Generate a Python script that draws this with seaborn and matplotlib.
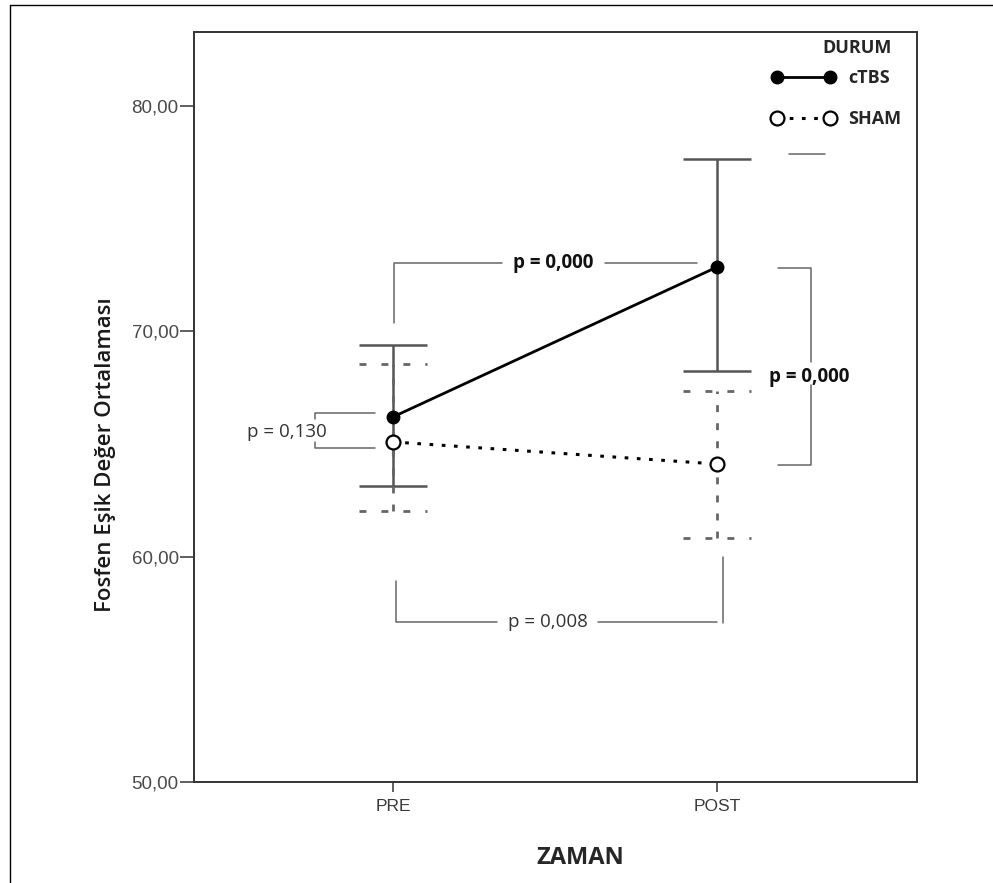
import numpy as np
import pandas as pd
import matplotlib
matplotlib.use('Agg')
import matplotlib.pyplot as plt
import seaborn as sns
from matplotlib.lines import Line2D

# Values
zaman = ['PRE', 'POST']
durum = ['cTBS', 'SHAM']
ctbs_mean = [66.20, 72.85]
ctbs_lo = [63.14, 68.24]
ctbs_hi = [69.39, 77.65]
sham_mean = [65.09, 64.11]
sham_lo = [62.03, 60.83]
sham_hi = [68.55, 67.35]
y_ticks = [50, 60, 70, 80]
p_labels = ['p = 0,130', 'p = 0,000', 'p = 0,000', 'p = 0,008']

sns.set_style('white')
plt.rcParams['font.family'] = ['Open Sans', 'DejaVu Sans']

# Long table for seaborn
df = pd.DataFrame({
    'zaman': zaman * 2,
    'durum': [durum[0]] * 2 + [durum[1]] * 2,
    'ortalama': ctbs_mean + sham_mean,
    'alt': ctbs_lo + sham_lo,
    'ust': ctbs_hi + sham_hi,
})
df['x'] = df['zaman'].map({z: i for i, z in enumerate(zaman)})

fig = plt.figure(figsize=(9.93, 8.83), dpi=100)
ax = fig.add_axes([194 / 993, 1 - 782 / 883, (917 - 194) / 993, (782 - 32) / 883])

cap = 0.106
# error bars: cTBS solid, SHAM dashed
c = df[df['durum'] == 'cTBS']
ax.vlines(c['x'], c['alt'], c['ust'], colors='#555555', lw=1.8, zorder=2)
ax.hlines(np.r_[c['alt'], c['ust']], np.r_[c['x'], c['x']] - cap, np.r_[c['x'], c['x']] + cap,
          colors='#555555', lw=1.8, zorder=2)
s = df[df['durum'] == 'SHAM']
ax.vlines(s['x'], s['alt'], s['ust'], colors='#666666', lw=2, linestyles=(0, (2.5, 4)), zorder=3)
ax.hlines(np.r_[s['alt'], s['ust']], np.r_[s['x'], s['x']] - cap, np.r_[s['x'], s['x']] + cap,
          colors='#666666', lw=2, linestyles=(0, (2.5, 5.4)), zorder=3)

# mean lines
sns.lineplot(data=c, x='x', y='ortalama', color='black', lw=2, marker='o', ms=9,
             mfc='black', mec='black', mew=1, label='cTBS', ax=ax, zorder=4)
sns.lineplot(data=s, x='x', y='ortalama', color='black', lw=2.2, linestyle=(0, (1.2, 2.8)),
             marker='o', ms=10, mfc='white', mec='black', mew=1.6, label='SHAM', ax=ax, zorder=4)

# significance brackets
bc = '#666666'
blw = 1.1
pfs = 13.5
# PRE: cTBS vs SHAM
ax.plot([-0.056, -0.241, -0.241], [66.38, 66.38, 66.10], color=bc, lw=blw)
ax.plot([-0.056, -0.241, -0.241], [64.82, 64.82, 65.10], color=bc, lw=blw)
ax.text(-0.326, 65.53, p_labels[0], ha='center', va='center', fontsize=pfs, color='#333333')
# cTBS: PRE vs POST
ax.plot([0.003, 0.003, 0.336], [70.37, 73.03, 73.03], color=bc, lw=blw)
ax.plot([0.654, 0.938], [73.03, 73.03], color=bc, lw=blw)
ax.text(0.495, 73.03, p_labels[1], ha='center', va='center', fontsize=pfs, weight='bold', color='#111111')
# POST: cTBS vs SHAM
ax.plot([1.188, 1.290, 1.290], [72.81, 72.81, 68.64], color=bc, lw=blw)
ax.plot([1.188, 1.290, 1.290], [64.07, 64.07, 67.62], color=bc, lw=blw)
ax.text(1.284, 67.97, p_labels[2], ha='center', va='center', fontsize=pfs, weight='bold', color='#111111')
# SHAM: PRE vs POST
ax.plot([0.009, 0.009, 0.321], [58.92, 57.10, 57.10], color=bc, lw=blw)
ax.plot([0.633, 1.0], [57.10, 57.10], color=bc, lw=blw)
ax.plot([1.019, 1.019], [59.98, 57.06], color=bc, lw=blw)
ax.text(0.477, 57.10, p_labels[3], ha='center', va='center', fontsize=pfs, color='#333333')
# stray short line under legend
ax.plot([1.222, 1.333], [77.87, 77.87], color=bc, lw=blw)

ax.set_xlim(-0.614, 1.617)
ax.set_ylim(50, 83.28)
ax.set_xticks(range(len(zaman)), labels=zaman)
ax.set_yticks(y_ticks, labels=[f'{v:.2f}'.replace('.', ',') for v in y_ticks])
ax.set_xlabel('')
ax.set_ylabel('')
ax.tick_params(axis='y', direction='out', length=10, width=1.2, color='#444444',
               labelcolor='#4a4a4a', labelsize=13.5, pad=1, left=True)
ax.tick_params(axis='x', direction='out', length=7, width=1.2, color='#444444',
               labelcolor='#3a3a3a', labelsize=12.5, pad=5, bottom=True)
for lbl in ax.get_yticklabels() + ax.get_xticklabels():
    lbl.set_family(['Liberation Sans', 'DejaVu Sans'])
for sp in ax.spines.values():
    sp.set_color('#333333')
    sp.set_linewidth(1.4)

handles, labels = ax.get_legend_handles_labels()
ax.legend(handles, labels, loc='upper left', bbox_to_anchor=(772 / 993, 1 - 69 / 883),
          bbox_transform=fig.transFigure, frameon=False, numpoints=2, handlelength=3.5,
          handletextpad=0.7, labelspacing=1.3, borderpad=0, borderaxespad=0,
          prop={'weight': 'bold', 'size': 13})
fig.text(857 / 993, 1 - 48 / 883, 'DURUM', ha='center', va='center', fontsize=13, weight='bold')

fig.text(106 / 993, 1 - 455 / 883, 'Fosfen Eşik Değer Ortalaması', rotation=90,
         ha='center', va='center', fontsize=16, weight='semibold', color='#1a1a1a',
         family=['Open Sans', 'DejaVu Sans'])
fig.text(580 / 993, 1 - 858 / 883, 'ZAMAN', ha='center', va='center', fontsize=17, weight='bold')

# outer frame (left and top)
fig.add_artist(Line2D([10 / 993, 10 / 993], [0, 1 - 5 / 883], transform=fig.transFigure, color='black', lw=1))
fig.add_artist(Line2D([10 / 993, 1], [1 - 5 / 883, 1 - 5 / 883], transform=fig.transFigure, color='black', lw=1))

fig.savefig('out.png', dpi=100)
